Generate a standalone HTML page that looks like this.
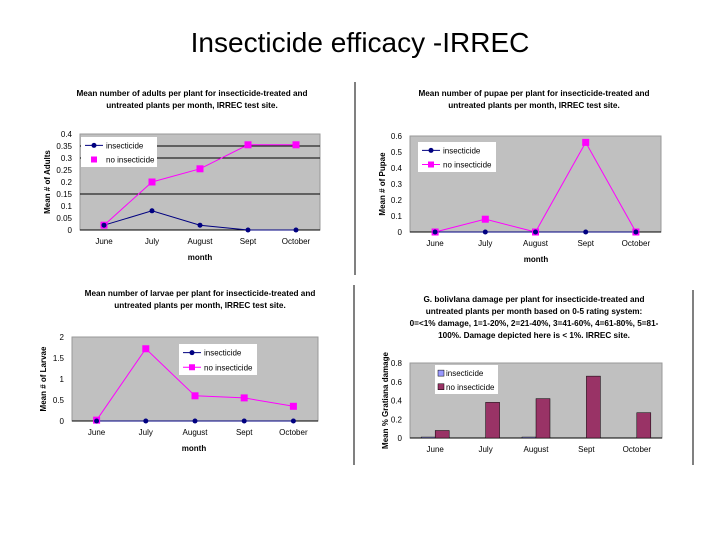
<!DOCTYPE html>
<html><head><meta charset="utf-8"><style>
body{margin:0;background:#fff;width:720px;height:540px;overflow:hidden;font-family:"Liberation Sans",sans-serif}
svg{position:absolute;left:0;top:0}
</style></head><body>
<svg id="s" width="720" height="540" xmlns="http://www.w3.org/2000/svg" font-family="Liberation Sans, sans-serif">
<text x="360" y="52" font-size="28" text-anchor="middle">Insecticide efficacy -IRREC</text>
<line x1="355" y1="82" x2="355" y2="275" stroke="#000"/>
<line x1="354" y1="285" x2="354" y2="465" stroke="#000"/>
<line x1="693" y1="290" x2="693" y2="465" stroke="#000"/>
</svg>
<script>
const months = ["June","July","August","Sept","October"];
const adultsIns = [0.02,0.08,0.02,0,0];
const adultsNo = [0.02,0.2,0.255,0.355,0.355];
const adultsTicks = ["0","0.05","0.1","0.15","0.2","0.25","0.3","0.35","0.4"];
const pupaeIns = [0,0,0,0,0];
const pupaeNo = [0,0.08,0,0.56,0];
const pupaeTicks = ["0","0.1","0.2","0.3","0.4","0.5","0.6"];
const larvaeIns = [0,0,0,0,0];
const larvaeNo = [0.02,1.72,0.6,0.55,0.35];
const larvaeTicks = ["0","0.5","1","1.5","2"];
const dmgIns = [0.01,0,0.01,0,0];
const dmgNo = [0.08,0.38,0.42,0.66,0.27];
const dmgTicks = ["0","0.2","0.4","0.6","0.8"];

const NS="http://www.w3.org/2000/svg";
const svg=document.getElementById('s');
function mk(t,a,p){const e=document.createElementNS(NS,t);for(const k in a)e.setAttribute(k,a[k]);(p||svg).appendChild(e);return e;}
function txt(x,y,s,fs,anchor,p,extra){const e=mk('text',Object.assign({x:x,y:y,'font-size':fs,'text-anchor':anchor||'middle'},extra||{}),p);e.textContent=s;return e;}

function chart(o){
  const g=mk('g',{});
  
  
  o.title.forEach((t,i)=>{const e=txt(o.tx,o.ty+i*12,t,8.2,'middle',g,{'font-weight':'bold'});
    
    });
  const bg=mk('rect',{x:o.x0,y:o.y1,width:o.x1-o.x0,height:o.y0-o.y1,fill:'#c0c0c0',stroke:'#999'},g);
  
  
  const max=parseFloat(o.ticks[o.ticks.length-1]);
  const ys=v=>o.y0-(v/max)*(o.y0-o.y1);
  const cw=(o.x1-o.x0)/o.cats.length;
  const xs=i=>o.x0+cw*(i+0.5);
  (o.grid||[]).forEach(v=>{const l=mk('line',{x1:o.x0,x2:o.x1,y1:ys(v),y2:ys(v),stroke:'#000'},g);
    
    });
  o.ticks.forEach(t=>{const e=txt(o.x0-8,ys(parseFloat(t))+3,t,8,'end',g);
    
    });
  mk('line',{x1:o.x0,x2:o.x1,y1:o.y0,y2:o.y0,stroke:'#000'},g);
  o.cats.forEach((c,i)=>{const e=txt(xs(i),o.y0+14,c,8,'middle',g);
    
    });
  const ya=txt(0,0,o.ylab,8,'middle',g,{'font-weight':'bold',transform:`translate(${o.yl},${(o.y0+o.y1)/2}) rotate(-90)`});
  
  
  if(o.xlab){const xa=txt(o.xlx,o.y0+30,o.xlab,8,'middle',g,{'font-weight':'bold'});
    
    }
  if(o.bars){
    const bw=14;
    o.s1.forEach((v,i)=>{const r=mk('rect',{x:xs(i)-bw,y:ys(v),width:bw,height:o.y0-ys(v),fill:'#9999ff',stroke:'#000','stroke-width':0.5},g);
      
      });
    o.s2.forEach((v,i)=>{const r=mk('rect',{x:xs(i),y:ys(v),width:bw,height:o.y0-ys(v),fill:'#993366',stroke:'#000','stroke-width':0.5},g);
      
      });
  } else {
    const p1=o.s1.map((v,i)=>xs(i)+','+ys(v)).join(' ');
    const p2=o.s2.map((v,i)=>xs(i)+','+ys(v)).join(' ');
    const l2=mk('polyline',{points:p2,fill:'none',stroke:'#ff00ff','stroke-width':1},g);
    
    
    const l1=mk('polyline',{points:p1,fill:'none',stroke:'#000080','stroke-width':1},g);
    
    
    o.s2.forEach((v,i)=>{const r=mk('rect',{x:xs(i)-3.5,y:ys(v)-3.5,width:7,height:7,fill:'#ff00ff'},g);
      
      });
    o.s1.forEach((v,i)=>{const c=mk('circle',{cx:xs(i),cy:ys(v),r:2.5,fill:'#000080'},g);
      
      });
  }
  const L=o.leg;
  const lg=mk('g',{},g);
  
  
  mk('rect',{x:L[0],y:L[1],width:L[2],height:L[3],fill:'#fff'},lg);
  const r1=L[1]+L[3]*0.28, r2=L[1]+L[3]*0.75;
  if(o.bars){
    mk('rect',{x:L[0]+3,y:r1-3,width:6,height:6,fill:'#9999ff',stroke:'#000','stroke-width':0.5},lg);
    mk('rect',{x:L[0]+3,y:r2-3,width:6,height:6,fill:'#993366',stroke:'#000','stroke-width':0.5},lg);
    txt(L[0]+11,r1+3,'insecticide',8,'start',lg);
    txt(L[0]+11,r2+3,'no insecticide',8,'start',lg);
  } else {
    mk('line',{x1:L[0]+4,x2:L[0]+22,y1:r1,y2:r1,stroke:'#000080'},lg);
    mk('circle',{cx:L[0]+13,cy:r1,r:2.5,fill:'#000080'},lg);
    if(o.legLine2) mk('line',{x1:L[0]+4,x2:L[0]+22,y1:r2,y2:r2,stroke:'#ff00ff'},lg);
    mk('rect',{x:L[0]+10,y:r2-3,width:6,height:6,fill:'#ff00ff'},lg);
    txt(L[0]+25,r1+3,'insecticide',8,'start',lg);
    txt(L[0]+25,r2+3,'no insecticide',8,'start',lg);
  }
}
chart({name:'adults-chart',title:['Mean number of adults per plant for insecticide-treated and','untreated plants per month, IRREC test site.'],tx:192,ty:96,
 x0:80,x1:320,y0:230,y1:134,ticks:adultsTicks,grid:[0.15,0.3,0.35],cats:months,s1:adultsIns,s2:adultsNo,
 ylab:'Mean # of Adults',yl:50,xlab:'month',xlx:200,leg:[81,137,76,30],legLine2:false});
chart({name:'pupae-chart',title:['Mean number of pupae per plant for insecticide-treated and','untreated plants per month, IRREC test site.'],tx:534,ty:96,
 x0:410,x1:661,y0:232,y1:136,ticks:pupaeTicks,cats:months,s1:pupaeIns,s2:pupaeNo,
 ylab:'Mean # of Pupae',yl:385,xlab:'month',xlx:536,leg:[418,142,78,30],legLine2:true});
chart({name:'larvae-chart',title:['Mean number of larvae per plant for insecticide-treated and','untreated plants per month, IRREC test site.'],tx:200,ty:296,
 x0:72,x1:318,y0:421,y1:337,ticks:larvaeTicks,cats:months,s1:larvaeIns,s2:larvaeNo,
 ylab:'Mean # of Larvae',yl:46,xlab:'month',xlx:194,leg:[179,344,78,31],legLine2:true});
chart({name:'damage-chart',title:['G. bolivIana damage per plant for insecticide-treated and','untreated plants per month based on 0-5 rating system:','0=<1% damage, 1=1-20%, 2=21-40%, 3=41-60%, 4=61-80%, 5=81-','100%. Damage depicted here is < 1%. IRREC site.'],tx:534,ty:302,
 x0:410,x1:662,y0:438,y1:363,ticks:dmgTicks,cats:months,s1:dmgIns,s2:dmgNo,bars:true,
 ylab:'Mean % Gratiana damage',yl:388,leg:[435,365,63,29]});
</script>
</body></html>
